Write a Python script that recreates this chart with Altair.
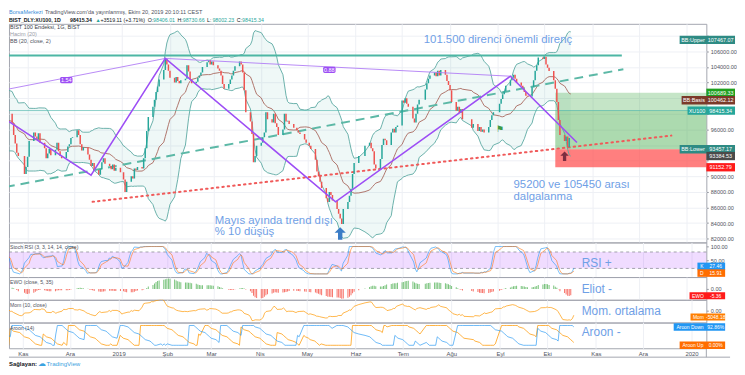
import json
import altair as alt
import numpy as np
import pandas as pd

# ================= values =================
months = ["2018-09", "2018-10", "2018-11", "2018-12", "2019-01", "2019-02", "2019-03",
          "2019-04", "2019-05", "2019-06", "2019-07", "2019-08", "2019-09", "2019-10"]
holidays = ["2018-10-29", "2019-01-01", "2019-04-23", "2019-05-01", "2019-06-04",
            "2019-06-05", "2019-06-06", "2019-07-15", "2019-08-12", "2019-08-13",
            "2019-08-14", "2019-08-30"]

close_2018_09 = [92300, 91800, 92600, 93100, 93600, 93200, 92700, 93900, 94800, 95100,
                 95700, 96400, 97100, 97800, 98300, 99200, 100100, 99600, 99300, 99900]
close_2018_10 = [98900, 98400, 97600, 96900, 95800, 95100, 94300, 94900, 93700, 94600,
                 95700, 96800, 97400, 97100, 98000, 96800, 95300, 94200, 93000, 92600,
                 90300, 91200]
close_2018_11 = [92500, 94500, 95600, 95100, 94700, 95500, 94300, 93600, 92300, 92900,
                 93500, 92700, 93400, 94300, 93200, 92600, 92300, 93100, 93800, 94100,
                 94900, 95000]
close_2018_12 = [95900, 95300, 94100, 93300, 93700, 92800, 92100, 91300, 91700, 90800,
                 90200, 90900, 91800, 92300, 91600, 91300, 90900, 91500, 90700, 91100,
                 90500]
close_2019_01 = [89600, 88000, 89300, 90000, 89700, 91000, 90800, 91200, 91000, 92300,
                 93600, 95800, 97600, 98900, 99800, 100800, 101500, 102400, 103600, 105000,
                 104300, 103500]
close_2019_02 = [102600, 102000, 102700, 102200, 101900, 102300, 102500, 104200, 103400, 102400,
                 101900, 102100, 102600, 102900, 103300, 104000, 104600, 104900, 104300, 104700]
close_2019_03 = [104200, 103800, 103500, 102900, 101800, 101200, 101800, 102400, 102900, 103500,
                 104100, 104700, 104300, 103300, 101000, 98200, 97000, 95400, 91800, 92600,
                 93900]
close_2019_04 = [94300, 95000, 95600, 98200, 97300, 96900, 98000, 96800, 96300, 95300,
                 96000, 98000, 97000, 97100, 96700, 96200, 95900, 95600, 95400, 94700,
                 94300]
close_2019_05 = [93900, 93500, 92100, 90600, 90000, 89300, 88500, 87200, 86700, 88000,
                 87600, 86900, 85800, 85200, 84600, 83900, 85800, 86700, 87500, 88400,
                 90300, 91700]
close_2019_06 = [92600, 93900, 94300, 93600, 93200, 91500, 91000, 92200, 94000, 94800,
                 94600, 94000, 95600, 96100, 95600, 96300, 96500]
close_2019_07 = [99700, 99400, 100000, 99300, 98900, 97400, 96900, 98000, 99200, 99800,
                 101100, 101900, 102500, 102900, 103300, 102800, 103500, 102900, 103600, 103000,
                 102200, 101700]
close_2019_08 = [101000, 99500, 98400, 98900, 98100, 98600, 97300, 96200, 96700, 95800,
                 96300, 95700, 96000, 95600, 96300, 97200, 97800, 98200]
close_2019_09 = [99300, 99900, 100500, 100900, 101600, 102300, 102600, 103000, 102500, 102000,
                 101600, 101200, 100800, 100300, 100200, 101400, 102300, 103500, 104200, 105200,
                 105000]
close_2019_10 = [105300, 104300, 103900, 103463, 102300, 101200, 99500, 97200, 95300, 94500,
                 95100, 93700, 94896, 98415.34]
monthly_closes = [close_2018_09, close_2018_10, close_2018_11, close_2018_12, close_2019_01,
                  close_2019_02, close_2019_03, close_2019_04, close_2019_05, close_2019_06,
                  close_2019_07, close_2019_08, close_2019_09, close_2019_10]
last_open = 98406.01

# drawings on the price pane (date, price)
zigzag_dates = ["2018-10-20", "2018-12-12", "2019-01-29", "2019-05-19", "2019-09-09", "2019-10-22"]
zigzag_prices = [96990, 90150, 105090, 86730, 102810, 94330]
ratio_dates = ["2018-10-18", "2019-01-29", "2019-09-09"]
ratio_prices = [101100, 105090, 102810]
ratio_labels = ["1.54", "0.88"]
ratio_label_dates = ["2018-11-26", "2019-05-15"]
ratio_label_prices = [102300, 103630]
dashed_dates = ["2018-10-18", "2019-11-21"]
dashed_prices = [88630, 103700]
dotted_dates = ["2018-12-13", "2019-12-22"]
dotted_prices = [86730, 95210]
resist_dates = ["2018-10-18", "2019-11-20"]
resist_price = 105450
last_price = 98415.34
zone_dates = ["2019-10-08", "2020-01-15"]
target_price = 100689.33
entry_price = 93457.17
stop_price = 91152.79
blue_arrow = ("2019-05-22", 82680)
red_arrow = ("2019-10-14", 92560)
flag_point = ("2019-09-02", 96100)

notes = [("101.500 direnci önemli direnç", "2019-07-15", 107490),
         ("Mayıs ayında trend dışı", "2019-03-02", 84330),
         ("% 10 düşüş", "2019-03-02", 82810),
         ("95200 ve 105450 arası", "2019-09-11", 88880),
         ("dalgalanma", "2019-09-11", 87360)]

# price-scale tags: (name, value text, position, colour, name-box start)
main_tags = [("BB:Upper", "107467.07", 107467.07, "#2e8b84", 678),
             ("", "100689.33", 100689.33, "#1fa01f", None),
             ("BB:Basis", "100462.12", 99730, "#7b3a2a", 680),
             ("XU100", "98415.34", 98415.34, "#26a69a", 686),
             ("BB:Lower", "93457.17", 93457.17, "#2e8b84", 678),
             ("", "93384.53", 92590, "#4a4a4a", None),
             ("", "91152.79", 91152.79, "#ff1a1a", None)]
hidden_price_labels = [108000, 100000, 98000, 94000, 92000]
stoch_tags = [("K", "27.46", 27.46, "#2196f3", 696), ("D", "15.91", 3.0, "#ff6d00", 696)]
ewo_tags = [("EWO", "-5.36", -6.2, "#ff1a1a", 688)]
mom_tags = [("Mom", "-5048.18", -7100, "#ff7f00", 689)]
aroon_tags = [("Aroon Down", "92.86%", 92.86, "#2196f3", 672), ("Aroon Up", "0.00%", 0.0, "#ff6d00", 678)]

header_line1 = [("BorsaMerkezi", "#3b8fd9", False, 2.5),
                ("TradingView.com'da yayınlanmış, Ekim 20, 2019 20:10:11 CEST", "#50535e", False, 0)]
header_line2 = [("BIST_DLY:XU100, 1D", "#131722", True, 2.5), ("98415.34", "#131722", True, 2),
                ("▲", "#26a69a", False, 2), ("+3519.11 (+3.71%)", "#131722", False, 2.5),
                ("O:", "#131722", False, 0.3), ("98406.01", "#26a69a", False, 2.5),
                ("H:", "#131722", False, 0.3), ("98730.66", "#26a69a", False, 2.5),
                ("L:", "#131722", False, 0.3), ("98002.23", "#26a69a", False, 2.5),
                ("C:", "#131722", False, 0.3), ("98415.34", "#26a69a", False, 0)]
month_names = ["Oca", "Şub", "Mar", "Nis", "May", "Haz", "Tem", "Ağu", "Eyl", "Eki", "Kas", "Ara"]

# ================= build the table =================
hol = set(pd.to_datetime(holidays))
dates, closes = [], []
for ym, vals in zip(months, monthly_closes):
    start = pd.Timestamp(ym + "-01")
    days = [d for d in pd.bdate_range(start, start + pd.offsets.MonthEnd(0)) if d not in hol]
    for d, v in zip(days, vals):
        dates.append(d)
        closes.append(float(v))

c = pd.Series(closes)
o = c.shift(1)
o.iloc[0] = c.iloc[0]
o.iloc[-1] = last_open


def ms(x):
    return int(pd.Timestamp(x).value // 10**6)


bbm = c.rolling(20).mean()
sd = c.rolling(20).std(ddof=0)
diff = c.diff()
gain = diff.clip(lower=0).fillna(0)
loss = (-diff.clip(upper=0)).fillna(0)
ag = gain.ewm(alpha=1 / 14, adjust=False).mean()
al = loss.ewm(alpha=1 / 14, adjust=False).mean()
rsi = 100 - 100 / (1 + ag / al)
rlo = rsi.rolling(14).min()
rhi = rsi.rolling(14).max()
stoch = (rsi - rlo) / (rhi - rlo) * 100
kline = stoch.rolling(3).mean()
dline = kline.rolling(3).mean()
ewo = (c.rolling(5).mean() - c.rolling(35).mean()) / c * 100
mom = c - c.shift(10)
hi_ = pd.Series(np.maximum(o.values, c.values))
lo_ = pd.Series(np.minimum(o.values, c.values))
aup = hi_.rolling(15).apply(lambda w: (14 - np.argmax(w[::-1])) / 14 * 100, raw=True)
adn = lo_.rolling(15).apply(lambda w: (14 - np.argmin(w[::-1])) / 14 * 100, raw=True)

df = pd.DataFrame({
    "t": [ms(x) for x in dates], "o": o.values, "c": c.values,
    "col": np.where(c.values >= o.values, "#26a69a", "#ef5350"),
    "bbu": (bbm + 2 * sd).values, "bbm": bbm.values, "bbl": (bbm - 2 * sd).values,
    "k": kline.values, "d": dline.values, "ewo": ewo.values,
    "ecol": np.where(ewo.values >= 0, "#4caf50", "#f44336"), "zero": 0.0,
    "mom": mom.values, "aup": aup.values, "adn": adn.values,
})
df = df[df["t"] >= ms("2018-10-17")].reset_index(drop=True)

# ================= layout helpers =================
FONT = "Liberation Sans"
AXC = "#50535e"
GRID = "#eef0f5"
NOTE = "#6fa0e6"
W = 705
H_MAIN, H_STOCH, H_EWO, H_MOM, H_AROON = 221, 35, 23, 23, 26
X0, X1 = ms("2018-10-23 04:00"), ms("2020-01-10 10:00")
month_vals = [ms(f"{y}-{m:02d}-01") for y, m in
              [(2018, 11), (2018, 12)] + [(2019, m) for m in range(1, 13)] + [(2020, 1)]]
label_expr = ("utcmonth(datum.value) == 0 ? utcFormat(datum.value, '%Y') : "
              + json.dumps(month_names, ensure_ascii=False) + "[utcmonth(datum.value)]")


def x_axis(labels):
    return alt.Axis(values=month_vals, grid=True, gridColor=GRID, ticks=False, domain=False,
                    labels=labels, labelExpr=label_expr, labelFontSize=6, labelColor=AXC,
                    labelPadding=2, labelFlush=False, labelFont=FONT, title=None)


def make_x(labels=False):
    sc = alt.Scale(type="utc", domain=[X0, X1])
    ax = x_axis(labels)
    return lambda f: alt.X(f"{f}:T", scale=sc, axis=ax)


def make_y(dom, axis):
    sc = alt.Scale(domain=dom, nice=False, zero=False)
    return lambda f: alt.Y(f"{f}:Q", scale=sc, axis=axis)


def y_axis(values, grid=False, hide=None):
    kw = {}
    if hide:
        kw["labelExpr"] = ("indexof(" + json.dumps(hide) + ", datum.value) >= 0 ? '' : datum.label")
    return alt.Axis(orient="right", values=values, format=".2f", grid=grid, gridColor=GRID,
                    tickSize=2, tickColor="#9598a1", domain=False, labelFontSize=5.6,
                    labelColor=AXC, labelPadding=2, labelFont=FONT, title=None, **kw)


def text_w(s, fs, bold=False):
    w = 0.0
    for ch in s:
        if ch.isdigit():
            w += 0.556
        elif ch in ".,:;' ":
            w += 0.278
        elif ch in "()":
            w += 0.333
        elif ch == "%":
            w += 0.889
        elif ch in "+▲_":
            w += 0.584
        elif ch in "ijlı":
            w += 0.222
        elif ch in "ftr":
            w += 0.3
        elif ch in "mwMW":
            w += 0.833
        elif ch.isupper():
            w += 0.68
        else:
            w += 0.53
    return w * fs * (1.07 if bold else 1.0)


def ptext(s, x, y, fs, color, bold=False, align="left"):
    return alt.Chart(pd.DataFrame({"s": [s]})).mark_text(
        align=align, baseline="middle", fontSize=fs, color=color, font=FONT,
        fontWeight="bold" if bold else "normal").encode(
        x=alt.value(x), y=alt.value(y), text="s:N")


def seq_texts(segs, y, fs):
    out, x = [], 0.0
    for s, col, bold, gap in segs:
        out.append(ptext(s, x, y, fs, col, bold))
        x += text_w(s, fs, bold) + gap
    return out


def tag_layers(ybuild, dom, h, items, xend, fs, half_px=4.2):
    layers = []
    per_px = (dom[1] - dom[0]) / h
    for name, val, pos, color, nx0 in items:
        x0 = nx0 if nx0 is not None else W
        dd = pd.DataFrame({"lo": [pos - half_px * per_px], "hi": [pos + half_px * per_px],
                           "pos": [pos], "name": [name], "val": [val]})
        base = alt.Chart(dd)
        layers.append(base.mark_rect(color=color).encode(
            x=alt.value(x0), x2=alt.value(xend), y=ybuild("lo"), y2=alt.Y2("hi")))
        if name:
            layers.append(base.mark_text(color="white", fontSize=fs, font=FONT, align="center",
                                         baseline="middle").encode(
                x=alt.value((x0 + W) / 2), y=ybuild("pos"), text="name:N"))
        layers.append(base.mark_text(color="white", fontSize=fs, font=FONT, align="center",
                                     baseline="middle").encode(
            x=alt.value((W + xend) / 2), y=ybuild("pos"), text="val:N"))
    return layers


def pts(dlist, plist):
    return pd.DataFrame({"t": [ms(d) for d in dlist], "p": plist})


# ================= main price pane =================
XM = make_x(False)
MAIN_DOM = [81530, 109520]
YM = make_y(MAIN_DOM, y_axis(list(range(82000, 108001, 2000)), grid=True, hide=hidden_price_labels))
base = alt.Chart(df)

zones = pd.DataFrame({
    "t0": [ms(zone_dates[0])] * 3, "t1": [ms(zone_dates[1])] * 3,
    "p0": [entry_price, entry_price, stop_price], "p1": [target_price, last_price, entry_price],
    "col": ["#4caf50", "#4caf50", "#ff4d4d"], "op": [0.32, 0.2, 0.72]})

day = 86400000
rl = pd.DataFrame({"t": [ms(d) for d in ratio_label_dates], "p": ratio_label_prices,
                   "s": ratio_labels})
rl["t0"] = rl["t"] - 4 * day
rl["t1"] = rl["t"] + 4 * day
rl["p0"] = rl["p"] - 400
rl["p1"] = rl["p"] + 400

notes_df = pd.DataFrame({"s": [n[0] for n in notes], "t": [ms(n[1]) for n in notes],
                         "p": [n[2] for n in notes]})
ARROW = "M0,-1L0.9,-0.1L0.35,-0.1L0.35,1L-0.35,1L-0.35,-0.1L-0.9,-0.1Z"

main_layers = [
    base.mark_area(color="#26a69a", opacity=0.075, clip=True).encode(x=XM("t"), y=YM("bbl"), y2=alt.Y2("bbu")),
    alt.Chart(zones).mark_rect(clip=True).encode(
        x=XM("t0"), x2=alt.X2("t1"), y=YM("p0"), y2=alt.Y2("p1"),
        color=alt.Color("col:N", scale=None), opacity=alt.Opacity("op:Q", scale=None)),
    base.mark_line(color="#5aa8a1", strokeWidth=0.9, clip=True).encode(x=XM("t"), y=YM("bbu")),
    base.mark_line(color="#5aa8a1", strokeWidth=0.9, clip=True).encode(x=XM("t"), y=YM("bbl")),
    base.mark_line(color="#a8675c", strokeWidth=0.9, clip=True).encode(x=XM("t"), y=YM("bbm")),
    alt.Chart(pd.DataFrame({"t0": [ms(resist_dates[0])], "t1": [ms(resist_dates[1])], "p": [resist_price]}))
    .mark_rule(color="#4db6a4", strokeWidth=2, clip=True).encode(x=XM("t0"), x2=alt.X2("t1"), y=YM("p")),
    alt.Chart(pd.DataFrame({"p": [last_price]})).mark_rule(color="#4db6ac", strokeWidth=0.8, opacity=0.8)
    .encode(y=YM("p")),
    alt.Chart(pts(dashed_dates, dashed_prices)).mark_line(
        color="#5cb8a6", strokeWidth=2, strokeDash=[9, 6], clip=True).encode(x=XM("t"), y=YM("p")),
    alt.Chart(pts(dotted_dates, dotted_prices)).mark_line(
        color="#f05a5a", strokeWidth=2, strokeDash=[1.5, 4], strokeCap="round", clip=True)
    .encode(x=XM("t"), y=YM("p")),
    base.mark_bar(width=1.5, clip=True).encode(
        x=XM("t"), y=YM("o"), y2=alt.Y2("c"), color=alt.Color("col:N", scale=None)),
    alt.Chart(pts(ratio_dates, ratio_prices)).mark_line(
        color="#b07cf5", strokeWidth=0.9, clip=True).encode(x=XM("t"), y=YM("p")),
    alt.Chart(pts(zigzag_dates, zigzag_prices)).mark_line(
        color="#9d4ef5", strokeWidth=1.6, clip=True).encode(x=XM("t"), y=YM("p")),
    alt.Chart(rl).mark_rect(color="#9d4ef5", cornerRadius=1.5).encode(
        x=XM("t0"), x2=alt.X2("t1"), y=YM("p0"), y2=alt.Y2("p1")),
    alt.Chart(rl).mark_text(color="white", fontSize=5.5, font=FONT, baseline="middle").encode(
        x=XM("t"), y=YM("p"), text="s:N"),
    alt.Chart(pts([blue_arrow[0]], [blue_arrow[1]])).mark_point(
        shape=ARROW, filled=True, size=160, color="#3a7cc6", opacity=1).encode(x=XM("t"), y=YM("p")),
    alt.Chart(pts([red_arrow[0]], [red_arrow[1]])).mark_point(
        shape=ARROW, filled=True, size=90, color="#7b2d40", opacity=1).encode(x=XM("t"), y=YM("p")),
    alt.Chart(pts([flag_point[0]], [flag_point[1]]).assign(s="⚑")).mark_text(
        color="#3f9a47", fontSize=9, baseline="middle").encode(x=XM("t"), y=YM("p"), text="s:N"),
    alt.Chart(notes_df).mark_text(color=NOTE, fontSize=11.5, font=FONT, align="left",
                                  baseline="middle").encode(x=XM("t"), y=YM("p"), text="s:N"),
    ptext("BIST 100 Endeksi, 1G, BIST", 1, 3, 5.6, "#3c3f4a"),
    ptext("Hacim (20)", 1, 10, 5.6, "#9a9da6"),
    ptext("BB (20, close, 2)", 1, 17, 5.6, "#50535e"),
]
main_layers += seq_texts(header_line1, -11.5, 5.6)
main_layers += seq_texts(header_line2, -4.3, 5.3)
main_layers += tag_layers(YM, MAIN_DOM, H_MAIN, main_tags, 734, 5.5)
main = alt.layer(*main_layers).properties(width=W, height=H_MAIN)

# ================= Stoch RSI =================
XS = make_x(False)
ST_DOM = [-11.5, 115]
YS = make_y(ST_DOM, y_axis([50, 100]))
stoch_layers = [
    alt.Chart(pd.DataFrame({"a": [20], "b": [80]})).mark_rect(color="#9915ff", opacity=0.15).encode(
        x=alt.value(0), x2=alt.value(W), y=YS("a"), y2=alt.Y2("b")),
    alt.Chart(pd.DataFrame({"v": [20, 80]})).mark_rule(color="#8a8d96", strokeDash=[3, 3], strokeWidth=0.8)
    .encode(y=YS("v")),
    base.mark_line(color="#2196f3", opacity=0.6, strokeWidth=1, clip=True).encode(x=XS("t"), y=YS("k")),
    base.mark_line(color="#ff6d00", opacity=0.55, strokeWidth=1, clip=True).encode(x=XS("t"), y=YS("d")),
    ptext("Stoch RSI (3, 3, 14, 14, close)", 1, 5, 5.2, "#50535e"),
    ptext("RSI +", 579, 20.5, 12, NOTE),
]
stoch_layers += tag_layers(YS, ST_DOM, H_STOCH, stoch_tags, 724, 5, 3.8)
stoch_panel = alt.layer(*stoch_layers).properties(width=W, height=H_STOCH)

# ================= EWO =================
XE = make_x(False)
EWO_DOM = [-9.8, 10.7]
YE = make_y(EWO_DOM, y_axis([0]))
ewo_layers = [
    base.mark_bar(width=1, opacity=0.75, clip=True).encode(
        x=XE("t"), y=YE("ewo"), y2=alt.Y2("zero"), color=alt.Color("ecol:N", scale=None)),
    ptext("EWO (close, 5, 35)", 1, 5, 5.2, "#50535e"),
    ptext("Eliot -", 579, 12, 12, NOTE),
]
ewo_layers += tag_layers(YE, EWO_DOM, H_EWO, ewo_tags, 724, 5, 3.6)
ewo_panel = alt.layer(*ewo_layers).properties(width=W, height=H_EWO)

# ================= Momentum =================
XMo = make_x(False)
MOM_DOM = [-13200, 12100]
YMo = make_y(MOM_DOM, y_axis([0]))
mom_layers = [
    base.mark_line(color="#ff9800", opacity=0.7, strokeWidth=1, clip=True).encode(x=XMo("t"), y=YMo("mom")),
    ptext("Mom (10, close)", 1, 5, 5.2, "#50535e"),
    ptext("Mom. ortalama", 579, 11, 12, NOTE),
]
mom_layers += tag_layers(YMo, MOM_DOM, H_MOM, mom_tags, 724, 5, 3.6)
mom_panel = alt.layer(*mom_layers).properties(width=W, height=H_MOM)

# ================= Aroon =================
XA = make_x(True)
AR_DOM = [-15, 115]
YA = make_y(AR_DOM, y_axis([]))
one = pd.DataFrame({"s": [""]})
aroon_layers = [
    base.mark_line(color="#ff9800", opacity=0.75, strokeWidth=1, clip=True).encode(x=XA("t"), y=YA("aup")),
    base.mark_line(color="#2196f3", opacity=0.65, strokeWidth=1, clip=True).encode(x=XA("t"), y=YA("adn")),
    ptext("Aroon (14)", 1, 6, 5.2, "#50535e"),
    ptext("Aroon -", 579, 10, 12, NOTE),
    alt.Chart(one).mark_rule(color="#a3a6af", strokeWidth=1).encode(
        x=alt.value(0), x2=alt.value(729), y=alt.value(H_AROON + 9)),
    alt.Chart(one).mark_rule(color="#a3a6af", strokeWidth=1).encode(
        x=alt.value(W), y=alt.value(H_AROON), y2=alt.value(H_AROON + 9)),
    ptext("Sağlayan:", 0, H_AROON + 16, 6, "#131722", bold=True),
    ptext("☁", 29, H_AROON + 16, 8, "#3ca2e0"),
    ptext("TradingView", 38, H_AROON + 16, 6.2, "#3ca2e0"),
]
aroon_layers += tag_layers(YA, AR_DOM, H_AROON, aroon_tags, 724, 5, 3.8)
aroon_panel = alt.layer(*aroon_layers).properties(width=W, height=H_AROON)

chart = alt.vconcat(main, stoch_panel, ewo_panel, mom_panel, aroon_panel,
                    spacing=0, bounds="flush").properties(
    padding={"left": 0, "top": 0, "right": 0, "bottom": 0}, background="white"
).configure_view(stroke="#a3a6af", strokeWidth=1).configure_text(font=FONT)

chart.save("out.html", embed_options={"renderer": "svg", "actions": False})
